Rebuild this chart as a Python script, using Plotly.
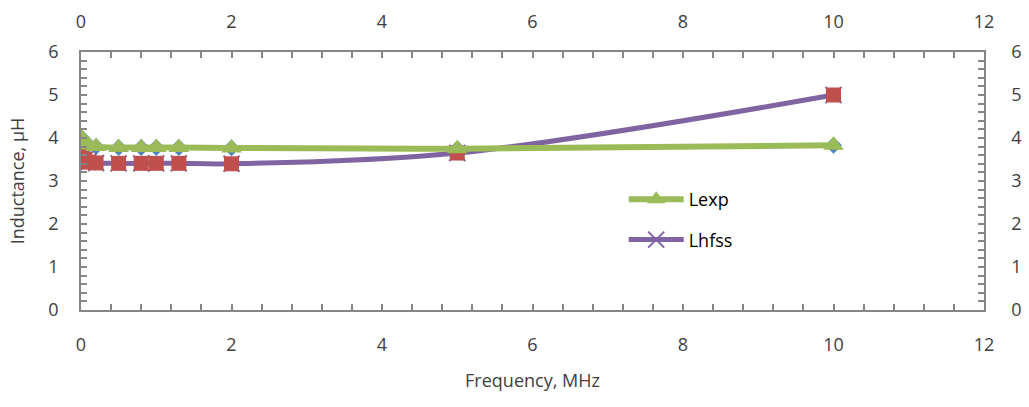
import plotly.graph_objects as go

# Frequency points (MHz) and measured / simulated inductance (uH)
freq_mhz = [0.01, 0.05, 0.1, 0.2, 0.5, 0.8, 1.0, 1.3, 2.0, 5.0, 10.0]
l_exp = [4.0, 3.9, 3.84, 3.8, 3.78, 3.78, 3.78, 3.78, 3.77, 3.75, 3.83]
l_hfss = [3.78, 3.5, 3.44, 3.42, 3.41, 3.41, 3.41, 3.41, 3.4, 3.65, 5.0]

x_ticks = [0, 2, 4, 6, 8, 10, 12]
y_ticks = [0, 1, 2, 3, 4, 5, 6]

GREEN = "#9BBB59"
PURPLE = "#8064A2"
RED = "#C0504D"
BLUE = "#4F81BD"
AXIS = "#868686"
TEXT = "#404040"
FONT = "Open Sans"
FS = 18

fig = go.Figure()

# marker-only companions of the two curves
fig.add_trace(go.Scatter(
    x=freq_mhz, y=l_exp, mode="markers", showlegend=False,
    marker=dict(symbol="diamond", size=13, color=BLUE),
))
fig.add_trace(go.Scatter(
    x=freq_mhz, y=l_hfss, mode="lines+markers", name="Lhfss",
    legendgroup="b", legendrank=2,
    line=dict(color=PURPLE, width=5, shape="spline", smoothing=1.0),
    marker=dict(symbol="x-thin-open", size=16, color=PURPLE,
                line=dict(color=PURPLE, width=2)),
))
fig.add_trace(go.Scatter(
    x=freq_mhz, y=l_hfss, mode="markers", showlegend=False,
    marker=dict(symbol="square", size=15, color=RED),
))
fig.add_trace(go.Scatter(
    x=freq_mhz, y=l_exp, mode="lines+markers", name="Lexp",
    legendgroup="a", legendrank=1,
    line=dict(color=GREEN, width=6, shape="spline", smoothing=1.0),
    marker=dict(symbol="triangle-up", size=18, color=GREEN),
))

# invisible trace to bring up the secondary (top / right) axes
fig.add_trace(go.Scatter(
    x=[0, 12], y=[0, 6], xaxis="x2", yaxis="y2", mode="markers",
    marker=dict(opacity=0), showlegend=False, hoverinfo="skip",
))

minor_common = dict(ticks="inside", ticklen=6, tickcolor=AXIS, tickwidth=1.5)
axis_common = dict(
    showline=True, linecolor=AXIS, linewidth=1.5,
    ticks="inside", ticklen=6, tickcolor=AXIS, tickwidth=1.5,
    showgrid=False, zeroline=False, automargin=False,
    tickfont=dict(family=FONT, size=FS, color=TEXT),
)

fig.update_layout(
    width=1029, height=407,
    margin=dict(l=81, r=45, t=52, b=97),
    paper_bgcolor="white", plot_bgcolor="white",
    font=dict(family=FONT, size=FS, color=TEXT),
    xaxis=dict(
        range=[0, 12], tickvals=x_ticks, ticklabelstandoff=18,
        minor=dict(dtick=0.4, **minor_common),
        title=dict(text="Frequency, MHz", standoff=19,
                   font=dict(family=FONT, size=FS, color=TEXT)),
        **axis_common,
    ),
    yaxis=dict(
        range=[0, 6], tickvals=y_ticks, ticklabelstandoff=17,
        minor=dict(dtick=0.2, **minor_common),
        title=dict(text="Inductance, µH", standoff=19,
                   font=dict(family=FONT, size=FS, color=TEXT)),
        **axis_common,
    ),
    xaxis2=dict(
        range=[0, 12], tickvals=x_ticks, overlaying="x", side="top",
        anchor="y", ticklabelstandoff=15,
        minor=dict(dtick=0.4, **minor_common),
        **axis_common,
    ),
    yaxis2=dict(
        range=[0, 6], tickvals=y_ticks, overlaying="y", side="right",
        anchor="x", ticklabelstandoff=22,
        minor=dict(dtick=0.2, **minor_common),
        **axis_common,
    ),
    legend=dict(
        x=0.601, y=0.50, xanchor="left", yanchor="top",
        bgcolor="rgba(0,0,0,0)", traceorder="grouped",
        tracegroupgap=14, itemwidth=55,
        font=dict(family=FONT, size=FS, color="#000000"),
    ),
)

fig.write_html("out.html")
